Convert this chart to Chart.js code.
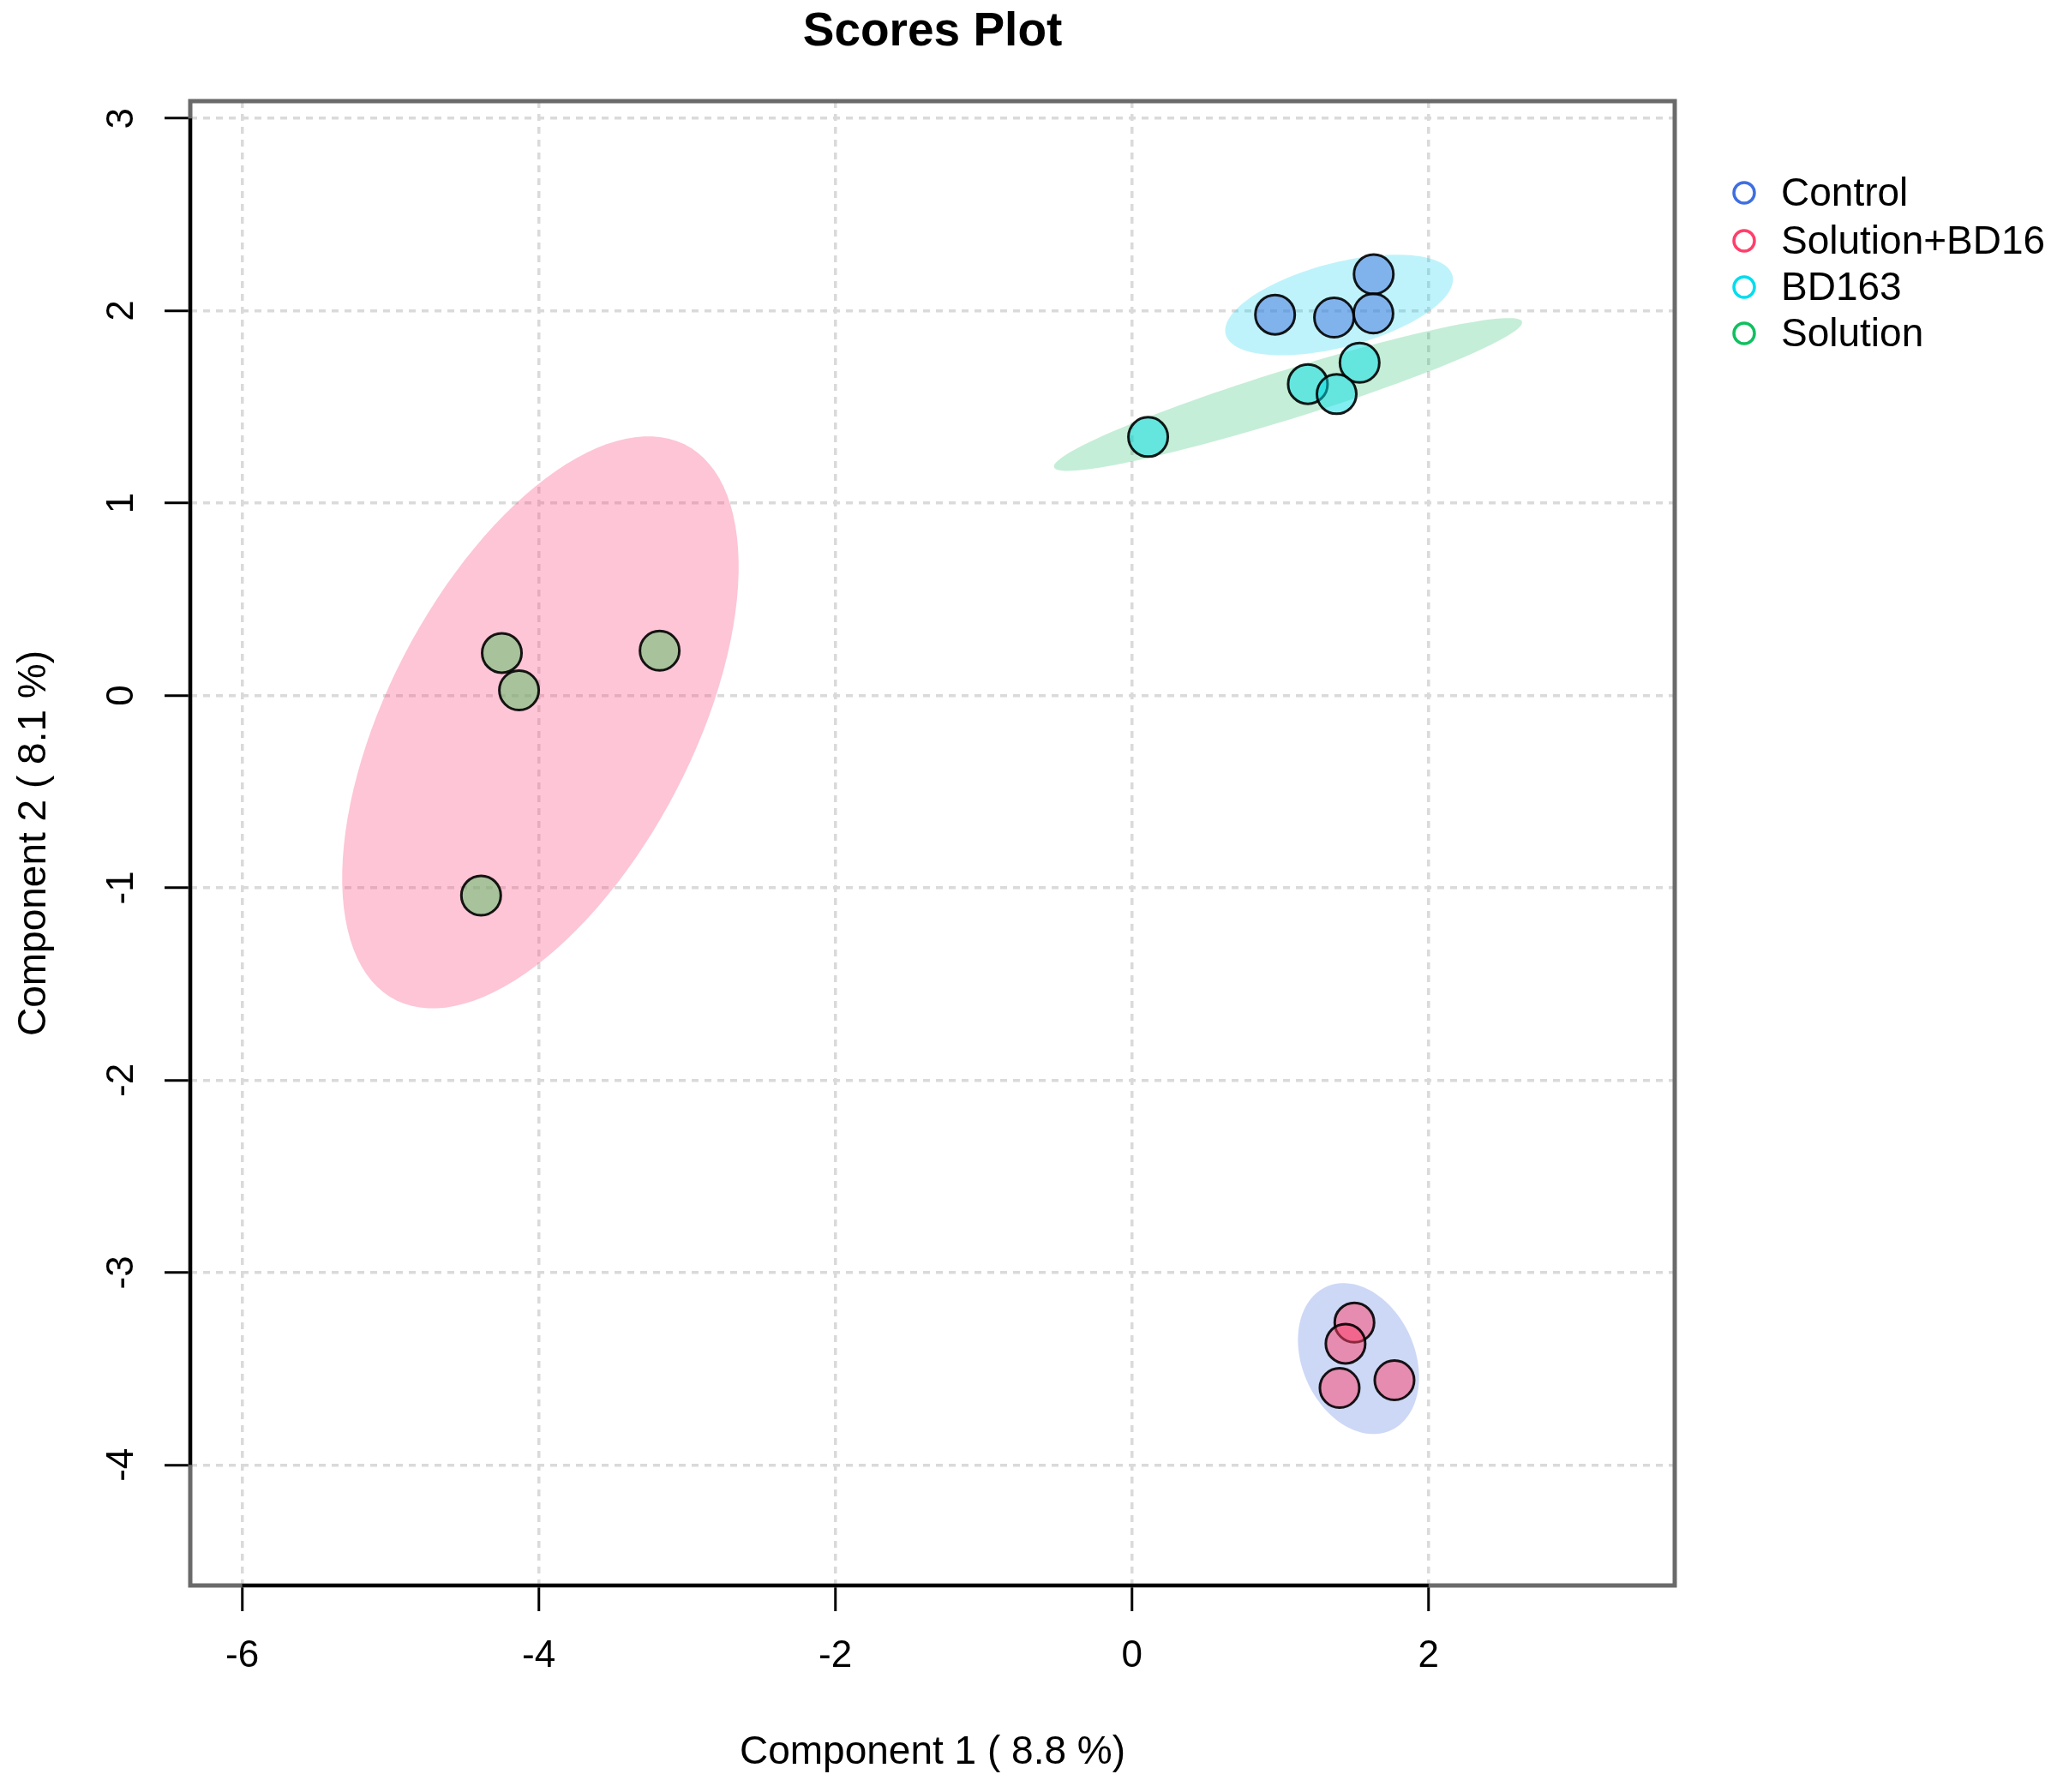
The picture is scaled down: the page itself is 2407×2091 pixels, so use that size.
<!DOCTYPE html>
<html>
<head>
<meta charset="utf-8">
<title>Scores Plot</title>
<script src="https://cdn.jsdelivr.net/npm/chart.js@4.4.1/dist/chart.umd.min.js"></script>
<style>
  html, body { margin: 0; padding: 0; background: #fff; }
  #wrap { width: 2407px; height: 2091px; position: relative; }
</style>
</head>
<body>
<div id="wrap"><canvas id="scoresChart"></canvas></div>
<script>
// group names, same order as the legend
const groupNames = ['Control', 'Solution+BD16', 'BD163', 'Solution'];

// scores (component 1 / component 2)
const controlX = [1.63, 0.965, 1.363, 1.628];
const controlY = [2.19, 1.98, 1.965, 1.986];
const solBD16X = [1.50, 1.44, 1.40, 1.77];
const solBD16Y = [-3.26, -3.37, -3.60, -3.56];
const bd163X = [1.535, 1.186, 1.380, 0.109];
const bd163Y = [1.730, 1.619, 1.567, 1.344];
const solutionX = [-4.249, -4.133, -3.185, -4.389];
const solutionY = [0.221, 0.027, 0.233, -1.04];

// axis ticks
const xTickValues = [-6, -4, -2, 0, 2];
const yTickValues = [-4, -3, -2, -1, 0, 1, 2, 3];

// colours: legend ring, point fill (half transparent), ellipse fill
const legendColors = ['#3f6fe0', '#ff3f6b', '#00ddee', '#10c060'];
const pointColors = ['rgba(66,114,222,0.5)', 'rgba(255,64,105,0.5)', 'rgba(4,221,229,0.5)', 'rgba(83,191,99,0.5)'];
const ellipseColors = ['rgba(0,206,240,0.25)', 'rgba(70,110,220,0.27)', 'rgba(0,180,80,0.23)', 'rgba(250,80,130,0.33)'];

const groupX = [controlX, solBD16X, bd163X, solutionX];
const groupY = [controlY, solBD16Y, bd163Y, solutionY];

const FONT = '"Liberation Sans", Arial, Helvetica, sans-serif';

// 95% confidence ellipse from the covariance of each group
function ellipseOf(xs, ys) {
    const n = xs.length;
    const mx = xs.reduce((a, b) => a + b, 0) / n;
    const my = ys.reduce((a, b) => a + b, 0) / n;
    let sxx = 0, syy = 0, sxy = 0;
    for (let i = 0; i < n; i++) {
        sxx += (xs[i] - mx) * (xs[i] - mx);
        syy += (ys[i] - my) * (ys[i] - my);
        sxy += (xs[i] - mx) * (ys[i] - my);
    }
    sxx /= n - 1; syy /= n - 1; sxy /= n - 1;
    const t = Math.sqrt(5.991464547); // qchisq(0.95, 2)
    const r = sxy / Math.sqrt(sxx * syy);
    const d = Math.acos(r);
    const pts = [];
    for (let k = 0; k <= 120; k++) {
        const a = -Math.PI + 2 * Math.PI * k / 120;
        pts.push([mx + t * Math.sqrt(sxx) * Math.cos(a + d / 2),
                  my + t * Math.sqrt(syy) * Math.cos(a - d / 2)]);
    }
    return pts;
}

const ellipsePlugin = {
    id: 'ellipses',
    beforeDatasetsDraw(chart) {
        const ctx = chart.ctx, xs = chart.scales.x, ys = chart.scales.y;
        ctx.save();
        ctx.beginPath();
        ctx.rect(chart.chartArea.left, chart.chartArea.top, chart.chartArea.width, chart.chartArea.height);
        ctx.clip();
        groupNames.forEach((g, i) => {
            const pts = ellipseOf(groupX[i], groupY[i]);
            ctx.beginPath();
            pts.forEach((p, k) => {
                const px = xs.getPixelForValue(p[0]), py = ys.getPixelForValue(p[1]);
                if (k === 0) ctx.moveTo(px, py); else ctx.lineTo(px, py);
            });
            ctx.closePath();
            ctx.fillStyle = ellipseColors[i];
            ctx.fill();
        });
        ctx.restore();
    }
};

// frame, axis lines, rotated y labels, title and legend (R style)
const decorPlugin = {
    id: 'decor',
    afterDraw(chart) {
        const ctx = chart.ctx, a = chart.chartArea, xs = chart.scales.x, ys = chart.scales.y;
        ctx.save();
        ctx.strokeStyle = '#6a6a6a';
        ctx.lineWidth = 5;
        ctx.strokeRect(a.left, a.top, a.right - a.left, a.bottom - a.top);

        ctx.strokeStyle = '#000';
        ctx.lineWidth = 4;
        ctx.beginPath();
        ctx.moveTo(xs.getPixelForValue(xTickValues[0]), a.bottom);
        ctx.lineTo(xs.getPixelForValue(xTickValues[xTickValues.length - 1]), a.bottom);
        ctx.moveTo(a.left, ys.getPixelForValue(yTickValues[0]));
        ctx.lineTo(a.left, ys.getPixelForValue(yTickValues[yTickValues.length - 1]));
        ctx.stroke();

        // y tick labels, turned like R's default
        ctx.fillStyle = '#000';
        ctx.font = '44px ' + FONT;
        ctx.textAlign = 'center';
        ctx.textBaseline = 'middle';
        ys.ticks.forEach(t => {
            const py = ys.getPixelForValue(t.value);
            ctx.save();
            ctx.translate(143, py);
            ctx.rotate(-Math.PI / 2);
            ctx.fillText(String(t.value), 0, 0);
            ctx.restore();
        });

        // title
        ctx.font = 'bold 55px ' + FONT;
        ctx.fillText('Scores Plot', (a.left + a.right) / 2, 38);

        // legend
        ctx.font = '46px ' + FONT;
        ctx.textAlign = 'left';
        const rows = [225, 281, 335, 389];
        groupNames.forEach((g, i) => {
            ctx.beginPath();
            ctx.arc(2035, rows[i], 12, 0, Math.PI * 2);
            ctx.strokeStyle = legendColors[i];
            ctx.lineWidth = 3.5;
            ctx.stroke();
            ctx.fillStyle = '#000';
            ctx.fillText(g, 2078, rows[i] + 2);
        });
        ctx.restore();
    }
};

const datasets = groupNames.map((g, i) => ({
    label: g,
    data: groupX[i].map((v, k) => ({ x: v, y: groupY[i][k] })),
    backgroundColor: pointColors[i],
    borderColor: 'rgba(0,0,0,0.9)',
    borderWidth: 3,
    pointRadius: 23,
    pointHoverRadius: 23
}));

const ctx = document.getElementById('scoresChart').getContext('2d');
const scoresChart = new Chart(ctx, {
    type: 'scatter',
    data: { datasets: datasets },
    options: {
        responsive: true,
        maintainAspectRatio: false,
        animation: false,
        devicePixelRatio: 1,
        layout: { padding: { left: 0, top: 118, right: 453, bottom: 0 } },
        plugins: {
            legend: { display: false },
            title: { display: false },
            tooltip: { enabled: false }
        },
        scales: {
            x: {
                type: 'linear',
                min: -6.35,
                max: 3.66,
                afterBuildTicks: s => { s.ticks = xTickValues.map(v => ({ value: v })); },
                afterFit: s => { s.height = 241; },
                grid: {
                    color: '#dadada',
                    lineWidth: 3.5,
                    tickColor: '#000',
                    tickWidth: 3,
                    tickLength: 30,
                    tickBorderDash: []
                },
                border: { display: false, dash: [8, 7] },
                ticks: {
                    color: '#000',
                    font: { family: FONT, size: 44 },
                    padding: 26,
                    maxRotation: 0,
                    callback: v => String(v)
                },
                title: {
                    display: true,
                    text: 'Component 1 ( 8.8 %)',
                    color: '#000',
                    font: { family: FONT, size: 46 },
                    padding: { bottom: 18 }
                }
            },
            y: {
                type: 'linear',
                min: -4.627,
                max: 3.09,
                afterBuildTicks: s => { s.ticks = yTickValues.map(v => ({ value: v })); },
                afterFit: s => { s.width = 222; },
                grid: {
                    color: '#dadada',
                    lineWidth: 3.5,
                    tickColor: '#000',
                    tickWidth: 3,
                    tickLength: 30,
                    tickBorderDash: []
                },
                border: { display: false, dash: [8, 7] },
                ticks: { display: false },
                title: {
                    display: true,
                    text: 'Component 2 ( 8.1 %)',
                    color: '#000',
                    font: { family: FONT, size: 46 },
                    padding: { top: 13 }
                }
            }
        }
    },
    plugins: [ellipsePlugin, decorPlugin]
});
</script>
</body>
</html>
